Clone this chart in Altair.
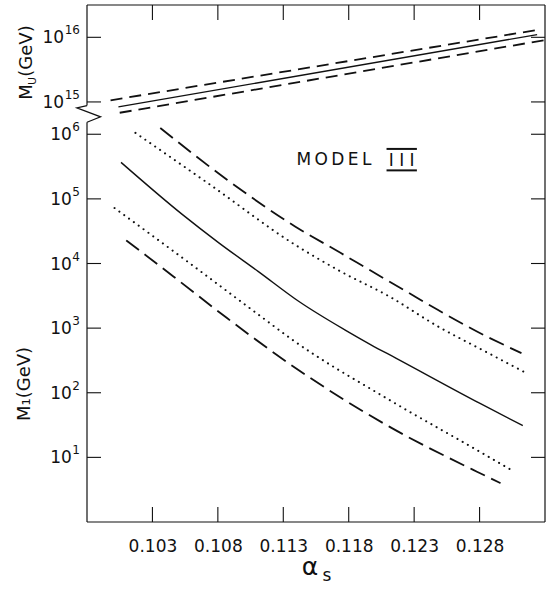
import altair as alt
import numpy as np
import pandas as pd

# ---------------- values ----------------
# lower panel: M_I (GeV) versus alpha_s
a_solid = [0.1006, 0.1053, 0.1081, 0.1111, 0.1142, 0.1177, 0.1197, 0.1216, 0.1280, 0.1313]
m_solid = [3.67e5, 5.7e4, 2.07e4, 7.5e3, 2.58e3, 940, 552, 344, 69, 31]

a_dot_hi = [0.1017, 0.1074, 0.1139, 0.1174, 0.1211, 0.1249, 0.1282, 0.1315]
m_dot_hi = [1.05e6, 1.66e5, 1.95e4, 7.5e3, 3.09e3, 1.04e3, 461, 205]

a_dash_hi = [0.1036, 0.1087, 0.1139, 0.1174, 0.1198, 0.1224, 0.1248, 0.1278, 0.1312]
m_dash_hi = [1.25e6, 1.98e5, 3.75e4, 1.45e4, 7.5e3, 3.7e3, 1.92e3, 887, 410]

a_dot_lo = [0.1001, 0.1048, 0.1113, 0.1137, 0.1211, 0.1280, 0.1303]
m_dot_lo = [7.23e4, 1.45e4, 1.51e3, 659, 77.6, 12.3, 6.6]

a_dash_lo = [0.1010, 0.1046, 0.1087, 0.1135, 0.1211, 0.1278, 0.1296]
m_dash_lo = [2.28e4, 6.3e3, 1.43e3, 278, 29.9, 6.0, 4.0]

# upper panel: M_U (GeV) versus alpha_s
a_mu_solid = [0.1004, 0.1324]
m_mu_solid = [8.4e14, 1.10e16]
a_mu_dash_hi = [0.0998, 0.1326]
m_mu_dash_hi = [1.06e15, 1.32e16]
a_mu_dash_lo = [0.1005, 0.1329]
m_mu_dash_lo = [6.8e14, 9.0e15]

x_ticks = [0.103, 0.108, 0.113, 0.118, 0.123, 0.128]
y_exp_low = [1, 2, 3, 4, 5, 6]
y_exp_up = [15, 16]

# decades removed by the axis break (10^15 sits half a decade above 10^6)
BREAK = 8.5

# ---------------- build tables ----------------
rows = []
def add(name, style, panel, xs_, ms_):
    for a, m in zip(xs_, ms_):
        lg = float(np.log10(m))
        rows.append({"curve": name, "style": style, "alpha": a,
                     "pos": lg - BREAK if panel == "U" else lg})

add("solid", "solid", "I", a_solid, m_solid)
add("dot_hi", "dot", "I", a_dot_hi, m_dot_hi)
add("dot_lo", "dot", "I", a_dot_lo, m_dot_lo)
add("dash_hi", "dash", "I", a_dash_hi, m_dash_hi)
add("dash_lo", "dash", "I", a_dash_lo, m_dash_lo)
add("mu_solid", "solid", "U", a_mu_solid, m_mu_solid)
add("mu_dash_hi", "mudash", "U", a_mu_dash_hi, m_mu_dash_hi)
add("mu_dash_lo", "mudash", "U", a_mu_dash_lo, m_mu_dash_lo)
curves = pd.DataFrame(rows)

y_exps = y_exp_low + y_exp_up
y_tick_pos = [float(e) for e in y_exp_low] + [e - BREAK for e in y_exp_up]
ylab = pd.DataFrame({"pos": y_tick_pos, "base": ["10"] * len(y_exps),
                     "exp": [str(e) for e in y_exps]})

FONT = "DejaVu Sans"
INK = "#111111"
W, H = 458, 517

xs = alt.Scale(domain=[0.098, 0.133], nice=False, zero=False)
ys = alt.Scale(domain=[0, 8], nice=False, zero=False)
x_axis = alt.Axis(values=x_ticks, format=".3f", labelFont=FONT, labelFontSize=17,
                  labelColor=INK, labelPadding=16, ticks=False, domain=False,
                  grid=False, labelFlush=False)

def X(f):
    return alt.X(f, type="quantitative", scale=xs, axis=x_axis, title=None)

def Y(f):
    return alt.Y(f, type="quantitative", scale=ys, axis=None, title=None)

def lines(style, width, dash=None, cap="butt"):
    kw = dict(stroke=INK, strokeWidth=width, strokeCap=cap, interpolate="monotone")
    if dash is not None:
        kw["strokeDash"] = dash
    return (alt.Chart(curves).transform_filter(alt.datum.style == style)
            .mark_line(**kw).encode(x=X("alpha"), y=Y("pos"), detail="curve:N"))

layers = []
# frame
one = pd.DataFrame({"k": [0]})
frame_kw = dict(color=INK, strokeWidth=1.2)
layers.append(alt.Chart(one).mark_rule(**frame_kw).encode(x=alt.value(0), x2=alt.value(W), y=alt.value(0)))
layers.append(alt.Chart(one).mark_rule(**frame_kw).encode(x=alt.value(0), x2=alt.value(W), y=alt.value(H)))
layers.append(alt.Chart(one).mark_rule(**frame_kw).encode(x=alt.value(W), y=alt.value(0), y2=alt.value(H)))
left_segs = pd.DataFrame({"y0": [0.0, 6.444], "y1": [6.185, 8.0]})
layers.append(alt.Chart(left_segs).mark_rule(**frame_kw).encode(x=alt.value(0), y=Y("y0"), y2=alt.Y2("y1")))
# zigzag at the axis break
zig = pd.DataFrame({"alpha": [0.098, 0.09722, 0.09904, 0.098],
                    "pos": [6.444, 6.408, 6.269, 6.185], "o": [0, 1, 2, 3]})
layers.append(alt.Chart(zig).mark_line(color=INK, strokeWidth=1.2).encode(
    x=X("alpha"), y=Y("pos"), order="o:Q"))

# inward ticks
xt = pd.DataFrame({"alpha": x_ticks})
yt = pd.DataFrame({"pos": y_tick_pos})
tk = dict(color=INK, strokeWidth=1.1)
layers.append(alt.Chart(xt).mark_rule(**tk).encode(x=X("alpha"), y=alt.value(H), y2=alt.value(H - 15)))
layers.append(alt.Chart(xt).mark_rule(**tk).encode(x=X("alpha"), y=alt.value(0), y2=alt.value(15)))
layers.append(alt.Chart(yt).mark_rule(**tk).encode(y=Y("pos"), x=alt.value(0), x2=alt.value(14)))
layers.append(alt.Chart(yt).mark_rule(**tk).encode(y=Y("pos"), x=alt.value(W), x2=alt.value(W - 14)))

# y tick labels: "10" with a raised exponent
layers.append(alt.Chart(ylab).mark_text(align="right", baseline="middle", font=FONT, fontSize=12,
                                        color=INK, dy=-7).encode(
    x=alt.value(-7), y=Y("pos"), text="exp:N"))
layers.append(alt.Chart(ylab).transform_calculate(
    xb="-7.5 - 7.7 * length(datum.exp)").mark_text(
    align="right", baseline="middle", font=FONT, fontSize=17, color=INK, dy=1).encode(
    x=alt.X("xb:Q", scale=None), y=Y("pos"), text="base:N"))

# curves
layers.append(lines("solid", 1.4))
layers.append(lines("dash", 1.8, [16, 7]))
layers.append(lines("mudash", 1.8, [12, 7]))
layers.append(lines("dot", 2.0, [0.1, 5.9], cap="round"))

# MODEL III label
model = pd.DataFrame({"alpha": [0.11401], "pos": [5.519], "t": ["M\u2009O\u2009D\u2009E\u2009L"]})
layers.append(alt.Chart(model).mark_text(align="left", baseline="alphabetic", font=FONT,
                                         fontSize=17, color=INK).encode(x=X("alpha"), y=Y("pos"), text="t:N"))
roman = pd.DataFrame({"alpha": [0.12205], "pos": [5.505], "t": ["I I I"]})
layers.append(alt.Chart(roman).mark_text(align="center", baseline="alphabetic", font=FONT,
                                         fontSize=17, color=INK).encode(x=X("alpha"), y=Y("pos"), text="t:N"))
bars = pd.DataFrame({"a0": [0.12089, 0.12089], "a1": [0.12321, 0.12321], "pos": [5.773, 5.441]})
layers.append(alt.Chart(bars).mark_rule(color=INK, strokeWidth=2).encode(
    x=X("a0"), x2=alt.X2("a1"), y=Y("pos")))

# axis titles
def txt(s, x, y, size, angle=0, baseline="middle"):
    d = pd.DataFrame({"t": [s]})
    kw = dict(align="center", baseline=baseline, font=FONT, fontSize=size, color=INK)
    if angle:
        kw["angle"] = angle
    return alt.Chart(d).mark_text(**kw).encode(x=alt.value(x), y=alt.value(y), text="t:N")

layers.append(txt("M\u2081(GeV)", -62, 379, 18, angle=270))
layers.append(txt("M", -60, 87, 18, angle=270))
layers.append(txt("U", -54, 76, 11, angle=270))
layers.append(txt("(GeV)", -60, 46, 18, angle=270))
layers.append(txt("\u03b1", 223, 53 + 517, 25, baseline="alphabetic"))
layers.append(txt("s", 240, 59 + 517, 17, baseline="alphabetic"))

chart = alt.layer(*layers).properties(
    width=W, height=H,
    autosize=alt.AutoSizeParams(type="none"),
    padding={"left": 87, "top": 5, "right": 2, "bottom": 70},
    background="white",
).configure_view(stroke=None)

chart.save("out.html", embed_options={"renderer": "svg", "actions": False})
